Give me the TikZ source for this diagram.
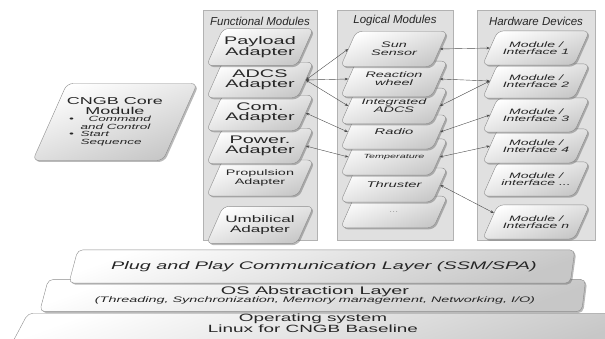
\documentclass[tikz,border=0pt]{standalone}
\usepackage{fontspec}
\setmainfont{Liberation Sans}
\newfontfamily\widefont[FakeStretch=1.8]{Liberation Sans}
\usetikzlibrary{shapes.geometric,shadows,arrows.meta}

\begin{document}
\begin{tikzpicture}[x=1pt,y=-1pt]
  \tikzstyle{panel} = [draw=black!30, fill=black!12]
  \tikzstyle{head} = [font=\itshape\fontsize{11.5}{11.5}\selectfont, text=black!85]
  \tikzstyle{card} = [trapezium, trapezium left angle=66, trapezium right angle=114, trapezium stretches body=true,
                      rounded corners=6pt, draw=black!45, top color=white, bottom color=black!22, shading angle=20,
                      drop shadow={shadow xshift=1.5pt, shadow yshift=-1.5pt, fill=black!60, opacity=.45},
                      inner sep=0pt, align=center, text=black!85, minimum width=107pt]
  \tikzstyle{layer} = [card, trapezium left angle=75, trapezium right angle=98, rounded corners=5pt]
  \tikzstyle{fbig} = [font=\widefont\fontsize{11}{10}\selectfont, inner ysep=7.8pt]
  \tikzstyle{fmid} = [font=\widefont\fontsize{9.5}{9.5}\selectfont, inner ysep=9.5pt]
  \tikzstyle{fsmall} = [font=\widefont\fontsize{8}{8.5}\selectfont, inner ysep=10pt]
  \tikzstyle{lmod} = [font=\widefont\itshape\fontsize{8}{7.8}\selectfont, inner ysep=11pt]
  \tikzstyle{lone} = [font=\widefont\itshape\fontsize{8.2}{8}\selectfont, inner ysep=14pt]
  \tikzstyle{ltiny} = [font=\widefont\itshape\fontsize{6}{6}\selectfont, inner ysep=15.5pt]
  \tikzstyle{hmod} = [font=\widefont\itshape\fontsize{7.8}{7.5}\selectfont, inner ysep=10.5pt]
  \tikzstyle{link} = [<->, >={Stealth[length=3.5pt,width=2.6pt]}, draw=black!70, line width=0.4pt]

  \useasboundingbox (0,0) rectangle (605,339);

  % columns
  \draw[panel] (203,10) rectangle (317,240);
  \draw[panel] (337,10) rectangle (453,240);
  \draw[panel] (477,10) rectangle (595,240);
  \node[head] (fhead) at (260,21) {Functional Modules};
  \node[head] (lhead) at (395,21) {Logical Modules};
  \node[head] (hhead) at (536,21) {Hardware Devices};

  % functional modules, drawn from the bottom up
  \foreach \n / \y / \f / \t in {6/225/fmid/{Umbilical\\Adapter}, 5/178/fsmall/{Propulsion\\Adapter},
                                 4/146/fbig/{Power.\\Adapter}, 3/113/fbig/{Com.\\Adapter},
                                 2/80/fbig/{ADCS\\Adapter}, 1/47/fbig/{Payload\\Adapter}} {%
    \node[card, \f] (f\n) at (260,\y) {\t};
  }

  % logical modules
  \foreach \n / \y / \f / \t in {7/212/ltiny/{\textcolor{black!45}{...}}, 6/185/lone/{Thruster},
                                 5/157/ltiny/{Temperature}, 4/132/lone/{Radio},
                                 3/106/lmod/{Integrated\\ADCS}, 2/79/lmod/{Reaction\\wheel},
                                 1/49/lmod/{Sun\\Sensor}} {%
    \node[card, \f] (l\n) at (394,\y) {\t};
  }

  % hardware devices
  \foreach \n / \y / \t in {6/222/{Module /\\Interface n}, 5/179/{Module /\\interface ...},
                            4/146/{Module /\\Interface 4}, 3/115/{Module /\\Interface 3},
                            2/81/{Module /\\Interface 2}, 1/48/{Module /\\Interface 1}} {%
    \node[card, hmod] (h\n) at (536,\y) {\t};
  }

  % core module
  \node[card, minimum width=156pt, inner ysep=14pt, font=\widefont\fontsize{10}{9.5}\selectfont] (core) at (115,122)
    {CNGB Core\\Module\\[1pt]{\itshape\fontsize{7.5}{7.5}\selectfont\begin{tabular}{@{}l@{\hspace{7pt}}l@{}}
      \textbullet & \hspace{8pt}Command\\ & and Control\\ \textbullet & Start\\ & Sequence\end{tabular}}\hspace*{10pt}};

  % layers
  \node[layer, anchor=north, minimum width=615pt, trapezium left angle=62, trapezium right angle=118,
        inner ysep=1pt, text depth=22pt, font=\widefont\fontsize{10.5}{9}\selectfont] (os) at (313,313)
    {Operating system\\Linux for CNGB Baseline};
  \node[layer, minimum width=546pt, inner ysep=7.5pt, trapezium right angle=97, font=\widefont\fontsize{11}{10}\selectfont] (osal) at (315,295.5)
    {OS Abstraction Layer\\[-2.5pt]{\itshape\fontsize{8}{8}\selectfont (Threading, Synchronization, Memory management, Networking, I/O)}};
  \node[layer, minimum width=506pt, inner ysep=11.5pt, font=\widefont\itshape\fontsize{11}{10}\selectfont] (pnp) at (324,266.5)
    {Plug and Play Communication Layer (SSM/SPA)};

  % links
  \foreach \a / \b in {f2/l1, f2/l2, f2/l3, f3/l4, f4/l5, l1/h1, l2/h2, l3/h2, l4/h3, l5/h4}
    \draw[link] (\a.east) -- (\b.west);
  \draw[link] (l6.east) -- (h6.168);

\end{tikzpicture}
\end{document}
